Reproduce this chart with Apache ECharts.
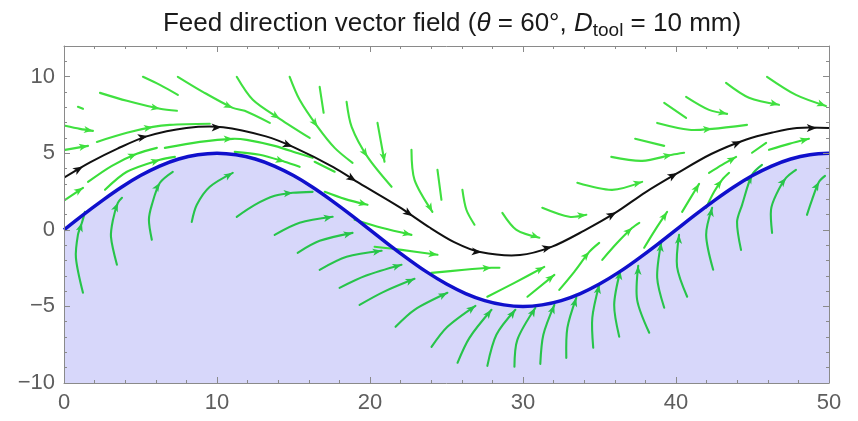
<!DOCTYPE html>
<html><head><meta charset="utf-8">
<script src="https://cdn.jsdelivr.net/npm/echarts@6/dist/echarts.min.js"></script>
<style>html,body{margin:0;padding:0;background:#fff}#c{width:858px;height:421px}</style>
</head><body><div id="c"></div>
<script>
// Surface profile (blue)
const surfaceX = [0,1.25,2.5,3.75,5,6.25,7.5,8.75,10,11.25,12.5,13.75,15,16.25,17.5,18.75,20,21.25,22.5,23.75,25,26.25,27.5,28.75,30,31.25,32.5,33.75,35,36.25,37.5,38.75,40,41.25,42.5,43.75,45,46.25,47.5,48.75,50];
const surfaceY = [0,0.98,1.91,2.78,3.54,4.16,4.62,4.9,5,4.9,4.62,4.16,3.54,2.78,1.91,0.98,0,-0.98,-1.91,-2.78,-3.54,-4.16,-4.62,-4.9,-5,-4.9,-4.62,-4.16,-3.54,-2.78,-1.91,-0.98,0,0.98,1.91,2.78,3.54,4.16,4.62,4.9,5];
// Tool path (black)
const toolX = [0,1.7,3.5,5.4,8.0,10.4,13.2,15.0,17.6,19.3,21.9,23.9,25.5,27.2,29.8,31.9,34.0,36.1,38.0,40.0,42.3,44.6,46.3,47.9,50];
const toolY = [3.4,4.4,5.3,6.1,6.65,6.7,6.1,5.4,4.1,3.05,1.5,0.15,-0.8,-1.45,-1.65,-1.1,-0.05,1.15,2.45,3.65,4.95,5.9,6.35,6.65,6.65];
const toolArrowX = [1.24,5.48,10.3,14.95,19.1,22.8,27.3,31.9,36.1,40.1,44.3,49.2];
// Streamlines: [points, arrow point index (-1 = none)]
const streamsAbove = [
[[[0.91,8.03],[1.24,7.90]],-1],
[[[2.35,8.94],[4.11,8.42],[6.27,7.90],[7.38,7.77]],2],
[[[5.16,9.99],[6.27,9.46],[7.44,8.81]],-1],
[[[7.44,9.99],[9.07,9.01],[11.03,7.96],[11.81,7.77],[13.45,6.98]],2],
[[[11.29,9.99],[12.34,8.49],[14.10,7.25],[16.06,6.00]],2],
[[[14.75,9.99],[15.40,8.49],[16.58,6.72],[17.69,5.35],[18.86,4.37]],2],
[[[16.71,9.33],[16.97,7.64]],-1],
[[[18.47,8.35],[18.80,6.72],[19.84,4.76],[21.41,2.81]],2],
[[[20.49,6.98],[20.95,4.44]],1],
[[[22.71,5.22],[22.91,3.26],[24.08,1.17]],2],
[[[24.41,3.92],[24.67,1.96]],-1],
[[[26.04,2.61],[26.30,1.31],[26.83,0.33]],-1],
[[[28.65,1.11],[29.57,0.00],[31.07,-0.52]],2],
[[[31.26,1.44],[33.03,0.85],[34.14,0.98]],2],
[[[33.55,3.07],[35.83,2.61],[37.79,3.13]],2],
[[[35.77,4.76],[37.79,4.50],[39.75,4.90],[40.53,5.03]],2],
[[[37.33,5.94],[39.23,5.48]],-1],
[[[38.77,6.98],[40.86,6.53],[42.36,6.59],[44.64,6.85]],2],
[[[39.23,8.29],[40.66,7.31]],-1],
[[[40.66,8.68],[42.16,7.83],[43.34,7.57]],2],
[[[43.27,9.59],[44.77,8.62],[46.73,8.16]],2],
[[[45.95,9.99],[47.84,8.81],[49.80,8.09]],2],
[[[0.07,6.79],[1.04,6.59],[1.89,6.46]],2],
[[[0.07,5.22],[1.57,5.48]],1],
[[[2.15,5.74],[4.11,6.33],[5.81,6.72],[6.92,6.85],[9.53,6.92]],2]
];
const streamsBand = [
[[[0.07,1.96],[1.24,2.74]],1],
[[[1.57,3.13],[3.13,4.18],[4.76,4.96],[6.07,5.35]],2],
[[[6.59,5.35],[8.88,5.74],[11.03,5.94],[11.94,5.87],[13.77,5.48],[15.40,4.96],[16.25,4.70]],2],
[[[2.68,2.61],[4.11,3.79],[6.27,4.57],[7.25,4.76]],2],
[[[11.16,5.09],[12.79,4.90],[14.42,4.44],[15.40,4.11]],2],
[[[16.38,4.44],[17.69,3.79]],-1],
[[[17.04,2.48],[18.34,2.02],[19.84,1.63]],2],
[[[18.99,0.65],[20.76,0.13],[22.71,-0.33]],2],
[[[20.30,-1.11],[22.06,-1.31],[24.41,-1.63]],2],
[[[24.02,-2.81],[26.17,-2.61],[27.94,-2.48],[28.46,-2.48]],2],
[[[27.67,-4.37],[29.44,-3.46],[31.39,-2.42]],2],
[[[30.29,-4.37],[32.05,-2.94]],1],
[[[32.37,-3.92],[33.35,-2.74],[34.33,-1.44],[34.98,-0.85]],2],
[[[35.18,-1.96],[36.16,-0.85],[37.14,0.13],[37.60,0.46]],2],
[[[37.92,-1.17],[38.64,0.00],[39.42,1.17]],2],
[[[40.40,1.17],[40.99,2.15],[41.51,3.00]],2],
[[[41.97,1.44],[42.49,2.48],[43.01,3.26],[43.47,3.72]],2],
[[[42.16,3.72],[43.01,4.24],[43.93,4.76]],2],
[[[44.97,5.03],[45.89,5.68]],-1],
[[[46.08,5.22],[47.39,5.61],[48.69,5.94]],2]
];
const streamsBelow = [
[[[1.24,-4.11],[0.78,-1.83],[0.91,-0.33],[1.17,0.46],[1.37,1.17]],3],
[[[3.46,-2.28],[3.07,-0.46],[3.20,0.65],[3.52,1.76],[3.79,2.09]],3],
[[[5.74,-0.65],[5.55,0.65],[5.74,1.63],[6.27,3.07],[7.11,3.79]],3],
[[[8.35,0.52],[8.68,1.63],[9.53,2.81],[11.03,3.72]],3],
[[[11.29,0.85],[12.47,1.63],[13.77,2.22],[14.95,2.42],[16.25,2.48]],3],
[[[13.77,-0.33],[15.40,0.46],[17.56,0.85]],2],
[[[15.27,-1.50],[16.71,-0.72],[18.86,-0.20]],2],
[[[16.71,-2.61],[18.47,-1.76],[20.76,-1.37]],2],
[[[18.01,-3.79],[19.71,-3.00],[22.06,-2.28]],2],
[[[19.32,-4.90],[20.89,-4.05],[22.91,-3.20]],2],
[[[21.67,-6.33],[22.91,-5.22],[25.06,-4.11]],2],
[[[24.02,-7.64],[25.06,-6.33],[26.89,-4.96]],2],
[[[25.72,-8.68],[26.50,-7.05],[27.94,-5.22]],2],
[[[27.67,-8.88],[28.26,-6.85],[29.50,-5.22]],2],
[[[29.44,-8.94],[29.63,-7.18],[30.81,-5.09]],2],
[[[31.13,-8.75],[31.33,-6.85],[32.05,-4.90]],2],
[[[32.83,-8.36],[32.90,-6.40],[33.48,-4.44]],2],
[[[34.59,-7.70],[34.53,-5.74],[34.98,-3.59]],2],
[[[36.29,-6.98],[35.96,-4.90],[36.36,-2.68]],2],
[[[38.25,-6.72],[37.46,-4.57],[37.53,-2.35]],2],
[[[39.23,-5.09],[38.77,-3.13],[39.03,-0.85]],2],
[[[40.73,-4.37],[40.07,-2.42],[40.20,-0.33]],2],
[[[42.43,-2.61],[41.97,-0.33],[42.36,1.44]],2],
[[[44.25,-1.31],[43.99,0.52],[44.32,1.63],[44.97,3.59],[45.62,4.24]],3],
[[[46.28,-0.20],[46.21,1.31],[46.54,2.28],[47.19,3.39],[47.84,3.92]],3],
[[[48.56,0.98],[48.89,1.96],[49.35,3.13],[49.74,3.52]],2]
];

const FONT = 'Liberation Sans, Arial, sans-serif';
const AXIS_COLOR = '#8a8a8a';
const LABEL_COLOR = '#5e5e5e';

function arrowShape(tip, dx, dy, color, len, half) {
  const L = Math.hypot(dx, dy) || 1;
  const ux = dx / L, uy = dy / L;
  const nx = -uy, ny = ux;
  const bx = tip[0] - ux * len, by = tip[1] - uy * len;
  return {
    type: 'polygon',
    shape: { points: [
      tip,
      [bx + nx * half, by + ny * half],
      [bx + ux * len * 0.25, by + uy * len * 0.25],
      [bx - nx * half, by - ny * half]
    ]},
    style: { fill: color, stroke: null }
  };
}

function streamSeries(list, color, z) {
  return {
    type: 'custom', z: z, silent: true, clip: true, animation: false,
    xAxisIndex: 0, yAxisIndex: 0,
    data: list.map(s => s[0][0]),
    renderItem: function (params, api) {
      const s = list[params.dataIndex];
      const pts = s[0].map(q => api.coord(q));
      const children = [{
        type: 'polyline',
        shape: { points: pts, smooth: 0.3 },
        style: { stroke: color, lineWidth: 2.1, fill: null, lineCap: 'round' }
      }];
      const a = s[1];
      if (a > 0) {
        const prev = pts[a - 1];
        const next = pts[a + 1] || pts[a];
        children.push(arrowShape(pts[a], next[0] - prev[0], next[1] - prev[1], color, 9, 3.6));
      }
      return { type: 'group', children: children };
    }
  };
}

const toolSeries = {
  type: 'custom', z: 6, silent: true, clip: true, animation: false,
  xAxisIndex: 0, yAxisIndex: 0,
  data: [[toolX[0], toolY[0]]],
  renderItem: function (params, api) {
    const pts = toolX.map((x, i) => api.coord([x, toolY[i]]));
    const children = [{
      type: 'polyline',
      shape: { points: pts, smooth: 0.3 },
      style: { stroke: '#111', lineWidth: 2, fill: null }
    }];
    toolArrowX.forEach(ax => {
      let i = 0;
      while (i < toolX.length - 2 && toolX[i + 1] < ax) i++;
      const t = (ax - toolX[i]) / (toolX[i + 1] - toolX[i]);
      const y = toolY[i] + t * (toolY[i + 1] - toolY[i]);
      const tip = api.coord([ax, y]);
      const p0 = pts[i], p1 = pts[i + 1];
      children.push(arrowShape(tip, p1[0] - p0[0], p1[1] - p0[1], '#111', 10, 4));
    });
    return { type: 'group', children: children };
  }
};

const surfaceData = surfaceX.map((x, i) => [x, surfaceY[i]]);
const minusFmt = v => (v < 0 ? '\u2212' + Math.abs(v) : String(v));

function xAx(pos, showLabel) {
  return {
    type: 'value', min: 0, max: 50, interval: 10, position: pos, z: 10,
    axisLine: { show: true, onZero: false, lineStyle: { color: AXIS_COLOR, width: 1 } },
    axisTick: { show: true, inside: true, length: 6, lineStyle: { color: AXIS_COLOR } },
    minorTick: { show: true, splitNumber: 5, length: 3, lineStyle: { color: AXIS_COLOR } },
    splitLine: { show: false }, minorSplitLine: { show: false },
    axisLabel: { show: showLabel, color: LABEL_COLOR, fontSize: 22, fontFamily: FONT, margin: 9, formatter: minusFmt }
  };
}
function yAx(pos, showLabel) {
  return {
    type: 'value', min: -10, max: 12, interval: 5, position: pos, z: 10,
    axisLine: { show: true, onZero: false, lineStyle: { color: AXIS_COLOR, width: 1 } },
    axisTick: { show: true, inside: true, length: 6, lineStyle: { color: AXIS_COLOR } },
    minorTick: { show: true, splitNumber: 5, length: 3, lineStyle: { color: AXIS_COLOR } },
    splitLine: { show: false }, minorSplitLine: { show: false },
    axisLabel: { show: showLabel, showMaxLabel: false, color: LABEL_COLOR, fontSize: 22, fontFamily: FONT, margin: 9, formatter: minusFmt }
  };
}

const chart = echarts.init(document.getElementById('c'), null, { renderer: 'canvas' });
chart.setOption({
  animation: false,
  backgroundColor: '#ffffff',
  title: {
    text: '{n|Feed direction vector field (}{i|\u03b8}{n| = 60°, }{i|D}{s|tool}{n| = 10 mm)}',
    left: 447, top: 3, textAlign: 'center',
    textStyle: {
      fontWeight: 'normal',
      rich: {
        n: { fontSize: 26, color: '#1a1a1a', fontFamily: FONT, fontWeight: 'normal' },
        i: { fontSize: 26, color: '#1a1a1a', fontFamily: FONT, fontStyle: 'italic', fontWeight: 'normal' },
        s: { fontSize: 19, color: '#1a1a1a', fontFamily: FONT, fontWeight: 'normal', padding: [13, 0, 0, 0] }
      }
    }
  },
  grid: { left: 64, right: 29, top: 46, bottom: 38, containLabel: false },
  xAxis: [xAx('bottom', true), xAx('top', false)],
  yAxis: [yAx('left', true), yAx('right', false)],
  series: [
    {
      type: 'line', data: surfaceData, smooth: 0.4, symbol: 'none', z: 1,
      xAxisIndex: 0, yAxisIndex: 0, silent: true,
      lineStyle: { width: 0, color: 'transparent' },
      areaStyle: { color: '#d7d7fa', opacity: 1, origin: 'start' }
    },
    streamSeries(streamsBelow, '#27c44a', 3),
    streamSeries(streamsBand, '#3ade3a', 3),
    streamSeries(streamsAbove, '#40e040', 3),
    {
      type: 'line', data: surfaceData, smooth: 0.4, symbol: 'none', z: 5,
      xAxisIndex: 0, yAxisIndex: 0, silent: true,
      lineStyle: { width: 3.5, color: '#1010cc' }
    },
    toolSeries
  ]
});
</script>
</body></html>
